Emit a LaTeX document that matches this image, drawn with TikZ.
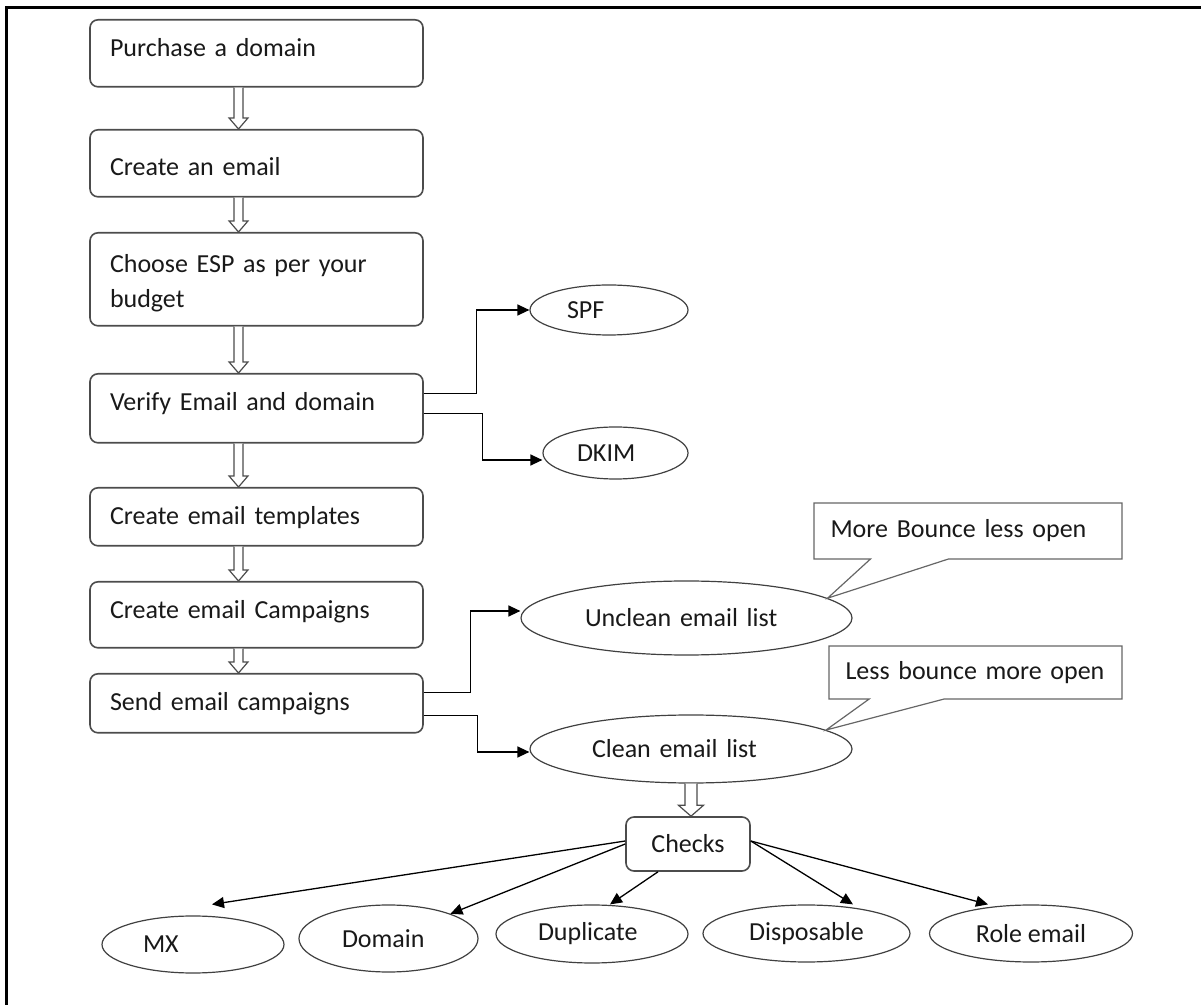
\documentclass[tikz,border=0pt]{standalone}
\usepackage{fontspec}
\setmainfont{Carlito}
\usetikzlibrary{arrows.meta, calc, positioning, shapes.geometric, shapes.callouts}

% hollow block arrow from the bottom of #3 to the top of #4, at x=#2
\newcommand{\hollowarrow}[4][2.25pt]{%
  \path[hollow] let \p1=(#3.south), \p2=(#4.north) in
    (#2-#1,\y1) -- (#2-#1,\y2+5.5pt) -- (#2-2.1*#1,\y2+5.5pt) -- (#2,\y2)
    -- (#2+2.1*#1,\y2+5.5pt) -- (#2+#1,\y2+5.5pt) -- (#2+#1,\y1);}

\begin{document}
\begin{tikzpicture}[
    x=0.5pt, y=-0.5pt,
    txt/.style = {font=\fontsize{13pt}{17.5pt}\selectfont, text=black!90},
    box/.style = {txt, draw=black!70, line width=0.8pt, rounded corners=4pt,
                anchor=north, minimum width=166.5pt, text width=146.5pt,
                align=left, inner xsep=10pt, inner ysep=9.5pt,
                text height=9pt, text depth=#1},
    oval/.style = {txt, ellipse, draw=black!75, line width=0.6pt, inner sep=0pt},
    note/.style = {txt, rectangle callout, draw=black!60, line width=0.6pt,
                align=left, inner xsep=8.25pt},
    chk/.style = {txt, draw=black!70, line width=0.8pt, rounded corners=4pt,
                minimum width=62pt, minimum height=27pt},
    arr/.style = {-{Triangle[length=6pt,width=5.5pt]}, line width=0.65pt},
    hollow/.style = {draw=black!70, fill=white, line width=0.6pt}
                    ]
\useasboundingbox (0,0) rectangle (1201,1005);
\draw[line width=1.5pt] (1201,8) -- (6.5,8) -- (6.5,1005);

% main steps
\node (pd)  [box=5.5pt] at (256.5,19)  {Purchase a domain};
\node (ce)  [box=1pt, text height=13.5pt] at (256.5,129) {Create an email};
\node (esp) [box=17pt, text height=10.5pt] at (256.5,232) {Choose ESP as per your\\ budget};
\node (ver) [box=6.5pt] at (256.5,373) {Verify Email and domain};
\node (tpl) [box=1pt]   at (256.5,487) {Create email templates};
\node (cmp) [box=5pt]   at (256.5,581) {Create email Campaigns};
\node (snd) [box=1.5pt] at (256.5,673) {Send email campaigns};

\foreach \a/\b in {pd/ce, ce/esp, esp/ver, ver/tpl, tpl/cmp, cmp/snd}
    {\hollowarrow{119.25pt}{\a}{\b}}

% verification
\node (spf)  [oval, minimum width=79pt, minimum height=25pt, text width=42pt, align=left] at (609,310) {SPF};
\node (dkim) [oval, minimum width=72.5pt, minimum height=26pt, text width=38.5pt, align=left] at (615.5,453) {DKIM};
\draw[arr] ([yshift=7.25pt]ver.east) -| ([xshift=-26.5pt]spf.west) -- (spf.west);
\draw[arr] ([yshift=-2.75pt]ver.east) -| ([xshift=-30pt,yshift=-3.5pt]dkim.west) -- ([yshift=-3.5pt]dkim.west);

% lists
\node (unclean) [oval, minimum width=165.5pt, minimum height=37pt, text width=101.5pt, align=left] at (686.5,618) {Unclean email list};
\node (clean)   [oval, minimum width=161pt, minimum height=34pt, text width=99pt, align=left] at (691,749) {Clean email list};
\draw[arr] ([yshift=5.25pt]snd.east) -| ([xshift=-25pt,yshift=3.5pt]unclean.west) -- ([yshift=3.5pt]unclean.west);
\draw[arr] ([yshift=-6.25pt]snd.east) -| ([xshift=-26pt,yshift=-1.5pt]clean.west) -- ([yshift=-1.5pt]clean.west);

\node (more) [note, minimum width=154pt, minimum height=28pt, text width=137.5pt,
    callout absolute pointer={(unclean.8)}, callout pointer width=39pt] at (968,531) {More Bounce less open};
\node (less) [note, minimum width=146.5pt, minimum height=26.5pt, text width=130pt,
    callout absolute pointer={(clean.8)}, callout pointer width=37.5pt] at (975.5,672.5) {Less bounce more open};

% checks
\node (checks) [chk] at (688,844) {Checks};
\hollowarrow[3pt]{345.5pt}{clean}{checks}

\node (mx)     [oval, minimum width=91pt, minimum height=28.5pt, text width=50pt, align=left] at (193,944.5) {MX};
\node (domain) [oval, minimum width=89.5pt, minimum height=33.5pt, text width=46.5pt, align=left] at (388.5,938.5) {Domain};
\node (dup)    [oval, minimum width=96pt, minimum height=29pt, text width=54pt, align=left] at (592,934) {Duplicate};
\node (disp)   [oval, minimum width=103.5pt, minimum height=28.5pt] at (806.5,933.5) {Disposable};
\node (role)   [oval, minimum width=101.5pt, minimum height=28.5pt] at (1031,933.5) {Role email};

\draw[arr] ([yshift=1.5pt]checks.west) -- ([shift={(9.5pt,5.5pt)}]mx.north);
\draw[arr] (checks.west) -- (domain);
\draw[arr] ([xshift=-15pt]checks.south) -- ([xshift=9pt]dup.north);
\draw[arr] ([yshift=1.5pt]checks.east) -- ([xshift=23.25pt]disp.north);
\draw[arr] ([yshift=1.5pt]checks.east) -- ([xshift=-21.5pt]role.north);

\end{tikzpicture}
\end{document}
